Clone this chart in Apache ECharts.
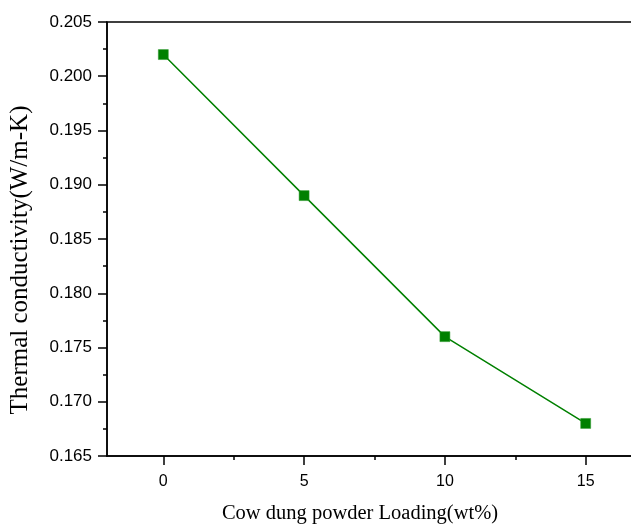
<!DOCTYPE html>
<html><head><meta charset="utf-8">
<script src="https://cdn.jsdelivr.net/npm/echarts@6/dist/echarts.min.js"></script>
<style>html,body{margin:0;padding:0;background:#fff;overflow:hidden}#c{width:660px;height:529px}</style>
</head><body><div id="c"></div>
<script>
const loading = [0, 5, 10, 15];
const conductivity = [0.202, 0.189, 0.176, 0.168];
const xTicks = [0, 5, 10, 15];
const xMinorTicks = [2.5, 7.5, 12.5];
const yTicks = [0.165, 0.170, 0.175, 0.180, 0.185, 0.190, 0.195, 0.200, 0.205];

const chart = echarts.init(document.getElementById('c'), null, {renderer: 'canvas'});
const axisLineStyle = {color: '#000', width: 1.5};
chart.setOption({
  animation: false,
  grid: {left: 106, top: 22, width: 536, height: 438, containLabel: false,
    show: true, borderColor: '#000', borderWidth: 1.5, backgroundColor: 'transparent'},
  xAxis: [{
    type: 'value', min: -2, max: 17, interval: 1,
    position: 'bottom',
    name: 'Cow dung powder Loading(wt%)',
    nameLocation: 'middle', nameGap: 47,
    nameTextStyle: {fontFamily: 'Liberation Serif', fontSize: 20.5, color: '#000', padding: [0, 29, 0, 0]},
    axisLine: {show: true, onZero: false, lineStyle: axisLineStyle},
    axisTick: {show: true, inside: false, length: 9, lineStyle: {color: '#000', width: 1.5},
      customValues: xTicks},
    axisLabel: {fontFamily: 'Liberation Sans', fontSize: 16, color: '#000', margin: 18,
      customValues: xTicks, formatter: v => String(v)},
    splitLine: {show: false}
  }, {
    type: 'value', min: -2, max: 17, interval: 1,
    position: 'bottom',
    axisLine: {show: false, onZero: false},
    axisTick: {show: true, inside: false, length: 4, lineStyle: {color: '#000', width: 1.5},
      customValues: xMinorTicks},
    axisLabel: {show: false},
    splitLine: {show: false}
  }],
  yAxis: {
    type: 'value', min: 0.165, max: 0.205, interval: 0.005,
    name: 'Thermal conductivity(W/m-K)',
    nameLocation: 'middle', nameGap: 74, nameRotate: 90,
    nameTextStyle: {fontFamily: 'Liberation Serif', fontSize: 25, color: '#000', padding: [0, 42, 0, 0]},
    axisLine: {show: true, onZero: false, lineStyle: axisLineStyle},
    axisTick: {show: true, inside: false, length: 9, lineStyle: {color: '#000', width: 1.5},
      customValues: yTicks},
    minorTick: {show: true, splitNumber: 2, length: 4, lineStyle: {color: '#000', width: 1.5}},
    axisLabel: {fontFamily: 'Liberation Sans', fontSize: 17, color: '#000', margin: 15,
      customValues: yTicks, formatter: v => v.toFixed(3)},
    splitLine: {show: false}
  },
  series: [{
    type: 'line',
    xAxisIndex: 0,
    data: loading.map((x, i) => [x, conductivity[i]]),
    symbol: 'rect', symbolSize: 10,
    lineStyle: {color: '#008000', width: 1.5},
    itemStyle: {color: '#008000', borderColor: '#2e9a2e', borderWidth: 0.5}
  }]
});
</script></body></html>
